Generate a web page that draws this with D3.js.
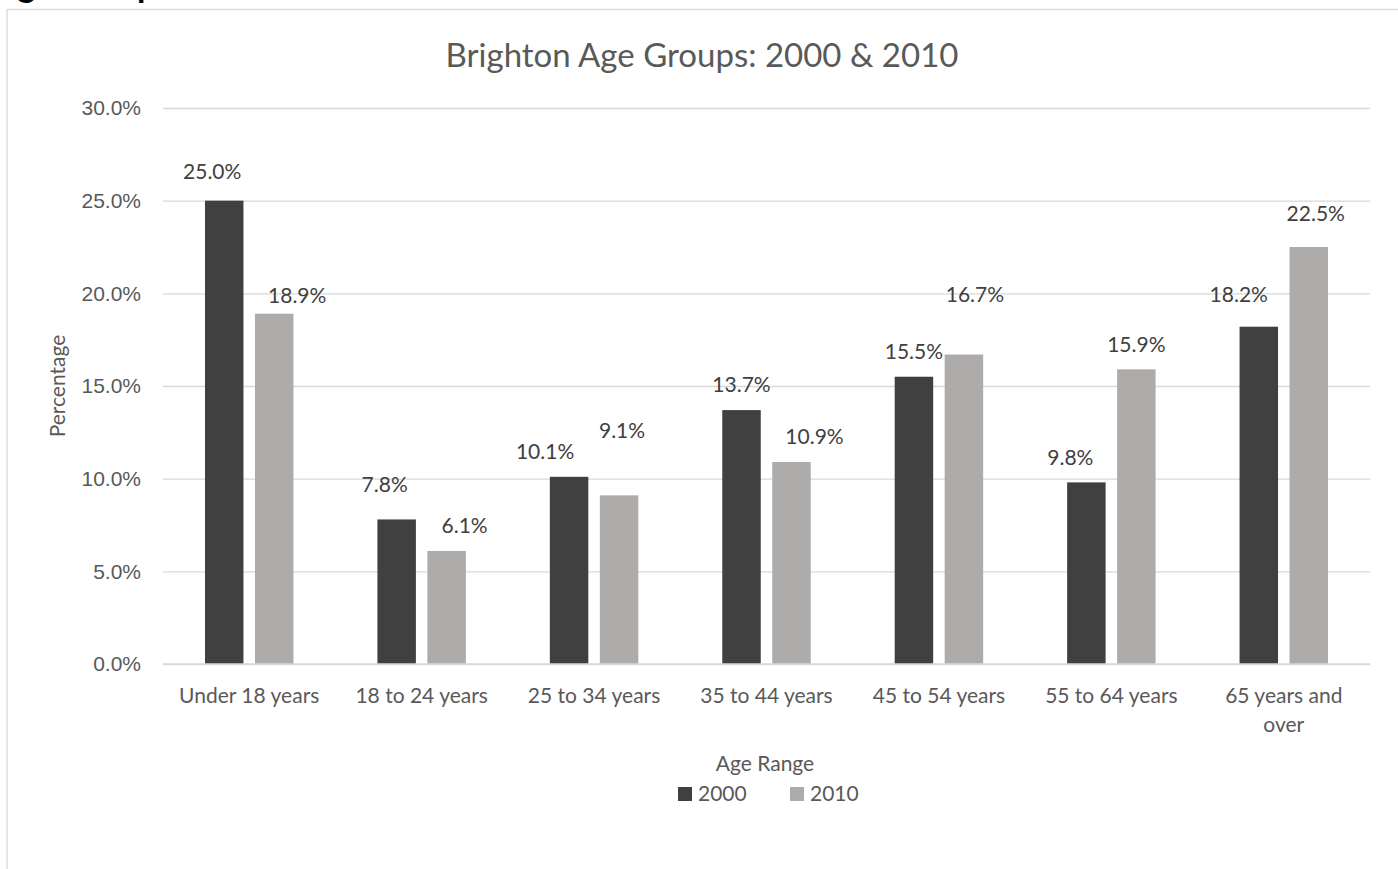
<!DOCTYPE html>
<html>
<head>
<meta charset="utf-8">
<script src="https://cdn.jsdelivr.net/npm/d3@7"></script>
<style>
  html, body { margin: 0; padding: 0; background: #fff; }
  svg { display: block; font-family: Lato, "Open Sans", sans-serif; }
</style>
</head>
<body>
<div id="chart"></div>
<script>
const ageGroups = ["Under 18 years", "18 to 24 years", "25 to 34 years", "35 to 44 years",
  "45 to 54 years", "55 to 64 years", "65 years and over"];
const seriesNames = ["2000", "2010"];
const values2000 = [25.0, 7.8, 10.1, 13.7, 15.5, 9.8, 18.2];
const values2010 = [18.9, 6.1, 9.1, 10.9, 16.7, 15.9, 22.5];
const yTicks = [0, 5, 10, 15, 20, 25, 30];

// hand-nudged data labels, as they sit in the source chart (px)
const labelNudge2000 = [[-12, -4], [-12, -10], [-24, 0], [0, 0], [0, 0], [-16, 0], [-20, -7]];
const labelNudge2010 = [[23, 7], [18, 0], [3, -40], [23, 0], [11, -35], [0, 0], [7, -8]];

document.addEventListener("DOMContentLoaded", () => {
  const width = 1398;
  const height = 869;
  const plot = { left: 163, right: 1370, top: 108, bottom: 664 };

  const textColor = "#595959";
  const gridColor = "#d9d9d9";
  const colors = { "2000": "#404040", "2010": "#aeabab" };

  const svg = d3.select("#chart")
    .append("svg")
    .attr("width", width)
    .attr("height", height);

  // clipped document heading above the chart frame
  svg.append("text")
    .attr("x", -6)
    .attr("y", -3)
    .attr("font-size", 34)
    .attr("font-weight", "bold")
    .attr("fill", "#000")
    .text("Age Groups");

  // chart frame
  svg.append("rect")
    .attr("x", 7)
    .attr("y", 9.5)
    .attr("width", width + 20)
    .attr("height", height + 20)
    .attr("fill", "#fff")
    .attr("stroke", gridColor)
    .attr("stroke-width", 1.3);

  const x0 = d3.scaleBand()
    .domain(ageGroups)
    .range([plot.left, plot.right])
    .paddingInner(0)
    .paddingOuter(0);

  const x1 = d3.scaleBand()
    .domain(seriesNames)
    .range([0, x0.bandwidth()])
    .paddingInner(0.23)
    .paddingOuter(0.84);

  const y = d3.scaleLinear()
    .domain([0, 30])
    .range([plot.bottom, plot.top]);

  // gridlines + y labels
  const yAxis = g => g
    .attr("transform", `translate(${plot.left},0)`)
    .call(d3.axisLeft(y)
      .tickValues(yTicks)
      .tickSize(-(plot.right - plot.left))
      .tickPadding(22)
      .tickFormat(d => d.toFixed(1) + "%"))
    .call(g => g.select(".domain").remove())
    .call(g => g.selectAll("line").attr("stroke", gridColor).attr("stroke-width", 1.3))
    .call(g => g.selectAll("text")
      .attr("fill", textColor)
      .attr("font-size", 21)
      .attr("font-family", null));

  svg.append("g").call(yAxis);

  const rows = ageGroups.map((group, i) => ({
    group,
    bars: [
      { series: "2000", value: values2000[i], nudge: labelNudge2000[i] },
      { series: "2010", value: values2010[i], nudge: labelNudge2010[i] }
    ]
  }));

  const groups = svg.append("g")
    .selectAll("g.group")
    .data(rows)
    .enter()
    .append("g")
    .attr("class", "group")
    .attr("transform", d => `translate(${x0(d.group)},0)`);

  groups.selectAll("rect")
    .data(d => d.bars)
    .enter()
    .append("rect")
    .attr("x", d => x1(d.series))
    .attr("y", d => y(d.value))
    .attr("width", x1.bandwidth())
    .attr("height", d => y(0) - y(d.value))
    .attr("fill", d => colors[d.series]);

  groups.selectAll("text.value")
    .data(d => d.bars)
    .enter()
    .append("text")
    .attr("class", "value")
    .attr("x", d => x1(d.series) + x1.bandwidth() / 2 + d.nudge[0])
    .attr("y", d => y(d.value) - 25 + d.nudge[1])
    .attr("dy", "0.35em")
    .attr("text-anchor", "middle")
    .attr("font-size", 21)
    .attr("fill", "#404040")
    .text(d => d.value.toFixed(1) + "%");

  // x axis line at zero (gridline colour)
  svg.append("line")
    .attr("x1", plot.left)
    .attr("x2", plot.right)
    .attr("y1", y(0))
    .attr("y2", y(0))
    .attr("stroke", gridColor)
    .attr("stroke-width", 1.3);

  // category labels, wrapped like the original
  const catLabels = svg.append("g")
    .selectAll("text")
    .data(ageGroups)
    .enter()
    .append("text")
    .attr("x", d => x0(d) + x0.bandwidth() / 2)
    .attr("y", plot.bottom + 32)
    .attr("dy", "0.35em")
    .attr("text-anchor", "middle")
    .attr("font-size", 21)
    .attr("fill", textColor);

  catLabels.each(function (d) {
    const el = d3.select(this);
    const words = d.split(" ");
    let line = [];
    let tspan = el.append("tspan").attr("x", el.attr("x")).attr("dy", "0.35em");
    words.forEach(w => {
      line.push(w);
      tspan.text(line.join(" "));
      if (tspan.node().getComputedTextLength() > 160 && line.length > 1) {
        line.pop();
        tspan.text(line.join(" "));
        line = [w];
        tspan = el.append("tspan")
          .attr("x", el.attr("x"))
          .attr("dy", 29)
          .text(w);
      }
    });
  });

  // title
  svg.append("text")
    .attr("x", 702)
    .attr("y", 55)
    .attr("dy", "0.35em")
    .attr("text-anchor", "middle")
    .attr("font-size", 33)
    .attr("fill", textColor)
    .text("Brighton Age Groups: 2000 & 2010");

  // axis titles
  svg.append("text")
    .attr("transform", `translate(58,${(plot.top + plot.bottom) / 2}) rotate(-90)`)
    .attr("dy", "0.35em")
    .attr("text-anchor", "middle")
    .attr("font-size", 21)
    .attr("fill", textColor)
    .text("Percentage");

  svg.append("text")
    .attr("x", 765)
    .attr("y", 764)
    .attr("dy", "0.35em")
    .attr("text-anchor", "middle")
    .attr("font-size", 21)
    .attr("fill", textColor)
    .text("Age Range");

  // legend
  const legend = svg.append("g")
    .selectAll("g")
    .data(seriesNames)
    .enter()
    .append("g")
    .attr("transform", (d, i) => `translate(${678 + i * 112},794)`);

  legend.append("rect")
    .attr("x", 0)
    .attr("y", -7)
    .attr("width", 14)
    .attr("height", 14)
    .attr("fill", d => colors[d]);

  legend.append("text")
    .attr("x", 20)
    .attr("dy", "0.35em")
    .attr("font-size", 21)
    .attr("fill", textColor)
    .text(d => d);
});
</script>
</body>
</html>
